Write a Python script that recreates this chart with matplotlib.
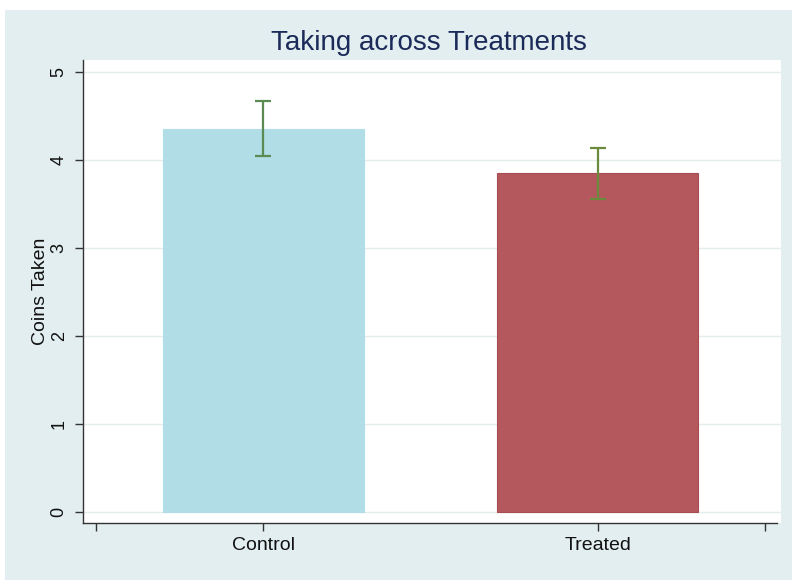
import matplotlib
matplotlib.use("Agg")
import matplotlib.pyplot as plt
from matplotlib.patches import Rectangle

categories = ["Control", "Treated"]
means = [4.355, 3.855]
ci_low = [4.05, 3.555]
ci_high = [4.67, 4.14]
bar_colors = ["#b0dde6", "#b5585d"]
yticks = [0, 1, 2, 3, 4, 5]

W, H = 792, 580
fig = plt.figure(figsize=(W / 100, H / 100), dpi=100)
fig.patch.set_facecolor("white")
fig.patches.append(Rectangle((5 / W, 0), 1 - 5 / W + 0.01, 1 - 10 / H, transform=fig.transFigure,
                             facecolor="#e3eef0", edgecolor="none", zorder=-10))

left, right, top, bottom = 83, 781, 60, 523
ax = fig.add_axes([left / W, 1 - bottom / H, (right - left) / W, (bottom - top) / H])
ax.set_facecolor("white")

x = [1, 2]
ax.bar(x, means, width=0.6, color=bar_colors, edgecolor=["#b0dde6", "#a94c52"], linewidth=0.8, zorder=2)
err_colors = ["#5b8b52", "#6a8a3c"]
for xi, m, lo, hi, c in zip(x, means, ci_low, ci_high, err_colors):
    ax.errorbar([xi], [m], yerr=[[m - lo], [hi - m]], fmt="none", ecolor=c,
                elinewidth=1.6, capsize=5.5, capthick=1.6, zorder=3)

ax.set_ylim(-0.125, 5.136)
ax.set_xlim(0.461, 2.548)
ax.set_yticks(yticks)
ax.set_yticklabels([str(t) for t in yticks], rotation=90, va="center", fontsize=13, family="Liberation Sans")
ax.yaxis.grid(True, color="#e4ecee", linewidth=1.0, zorder=0)
ax.set_axisbelow(True)
ax.set_xticks([0.5, 1, 2, 2.5])
ax.set_xticklabels(["", categories[0], categories[1], ""], fontsize=14, family="Liberation Sans")
ax.tick_params(axis="both", direction="out", length=6, width=1, color="#333333", labelcolor="#111111")
ax.tick_params(axis="x", pad=4)
ax.tick_params(axis="y", pad=5)
for s in ["top", "right"]:
    ax.spines[s].set_visible(False)
for s in ["left", "bottom"]:
    ax.spines[s].set_color("#333333")
    ax.spines[s].set_linewidth(1.0)
ax.spines["bottom"].set_bounds(0.461, 2.536)

ax.set_ylabel("Coins Taken", fontsize=14, family="Liberation Sans", labelpad=1, color="#111111")
fig.text(429 / W, 1 - 43 / H, "Taking across Treatments", ha="center", va="center",
         fontsize=20, color="#1b2a58", family="Liberation Sans")

fig.savefig("out.png", dpi=100, facecolor=fig.get_facecolor())
